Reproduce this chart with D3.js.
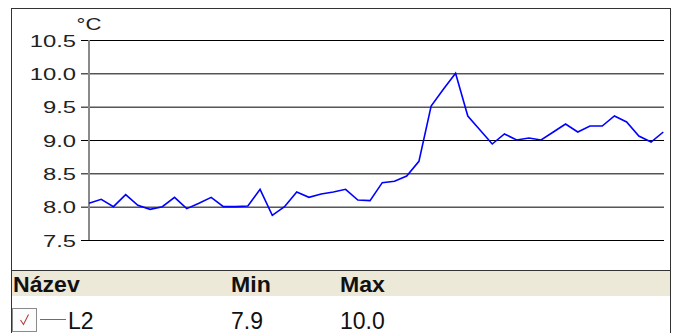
<!DOCTYPE html>
<html>
<head>
<meta charset="utf-8">
<script src="https://cdn.jsdelivr.net/npm/d3@7"></script>
<style>
  html, body { margin: 0; padding: 0; background: #fff; }
  svg { display: block; font-family: "Liberation Sans", Arial, sans-serif; }
</style>
</head>
<body>
<svg id="chart" width="677" height="333"></svg>
<script>
// Temperature readings of sensor L2 (°C), one per sample
const values = [
  8.05, 8.11, 8.00, 8.18, 8.02, 7.96, 8.00, 8.14, 7.97, 8.05,
  8.14, 8.00, 8.00, 8.01, 8.26, 7.87, 8.00, 8.22, 8.14, 8.19,
  8.22, 8.26, 8.10, 8.09, 8.36, 8.38, 8.46, 8.68, 9.51, 9.76,
  10.00, 9.36, 9.15, 8.94, 9.09, 9.00, 9.03, 9.00, 9.12, 9.24,
  9.12, 9.21, 9.21, 9.36, 9.27, 9.06, 8.97, 9.12
];
const yTicks = [7.5, 8.0, 8.5, 9.0, 9.5, 10.0, 10.5];
const unitLabel = "°C";
const columns = ["Název", "Min", "Max"];
const seriesName = "L2";

const svg = d3.select("#chart");

const plot = { left: 89, right: 664, top: 40, bottom: 240 };

const x = d3.scaleLinear().domain([0, values.length - 1]).range([plot.left, 663.3]);
const y = d3.scaleLinear().domain([7.5, 10.5]).range([plot.bottom, plot.top]);

// outer frame
svg.append("rect")
  .attr("x", 11.5).attr("y", 8.5)
  .attr("width", 659).attr("height", 340)
  .attr("fill", "#fff").attr("stroke", "#333").attr("stroke-width", 1);

// y axis with full-width grid lines
const axis = svg.append("g")
  .attr("transform", `translate(${plot.left},0)`)
  .call(d3.axisLeft(y).tickValues(yTicks).tickFormat(d3.format(".1f")).tickSizeOuter(0));
axis.select(".domain").remove();
axis.selectAll(".tick line")
  .attr("x1", -8).attr("x2", plot.right - plot.left)
  .attr("stroke", "#000").attr("stroke-width", 1);
axis.selectAll(".tick text")
  .attr("x", null).attr("dy", null)
  .attr("transform", "translate(-13,6) scale(1.4,1)")
  .attr("text-anchor", "end")
  .attr("font-size", 17)
  .attr("fill", "#222");

// vertical axis line
svg.append("line")
  .attr("x1", plot.left).attr("x2", plot.left)
  .attr("y1", y(10.5)).attr("y2", y(7.5))
  .attr("stroke", "#8a8a8a").attr("stroke-width", 2);

// unit label
svg.append("text")
  .attr("transform", "translate(89,30) scale(1.3,1)")
  .attr("text-anchor", "middle")
  .attr("font-size", 17)
  .attr("fill", "#222")
  .text(unitLabel);

// series line
svg.append("path")
  .datum(values)
  .attr("fill", "none")
  .attr("stroke", "#0000ff")
  .attr("stroke-width", 1.6)
  .attr("stroke-linejoin", "miter")
  .attr("d", d3.line().x((d, i) => x(i)).y(d => y(d)));

// legend table
const fmt = d3.format(".1f");
const minV = d3.min(values), maxV = d3.max(values);

svg.append("rect")
  .attr("x", 12).attr("y", 270)
  .attr("width", 658).attr("height", 26)
  .attr("fill", "#ece9d8");
svg.append("line")
  .attr("x1", 11).attr("x2", 671)
  .attr("y1", 270.5).attr("y2", 270.5)
  .attr("stroke", "#333");

const colX = [13, 231, 340];
columns.forEach((c, i) => {
  svg.append("text")
    .attr("transform", `translate(${colX[i]},292) scale(1.05,1)`)
    .attr("font-size", 22)
    .attr("font-weight", "bold")
    .attr("fill", "#111")
    .text(c);
});

// checkbox
svg.append("rect")
  .attr("x", 12.5).attr("y", 308.5)
  .attr("width", 24).attr("height", 23)
  .attr("fill", "#fcfcfc").attr("stroke", "#8a8a8a");
svg.append("path")
  .attr("d", "M20.5,320 L23.5,324.5 L28.5,314.5")
  .attr("fill", "none").attr("stroke", "#b04040").attr("stroke-width", 1.1);

// legend line swatch
svg.append("line")
  .attr("x1", 40).attr("x2", 66)
  .attr("y1", 319.5).attr("y2", 319.5)
  .attr("stroke", "#5a5aff").attr("stroke-width", 1);

const rowY = 329;
const rowText = [[68, seriesName], [colX[1], fmt(minV)], [colX[2], fmt(maxV)]];
rowText.forEach(([tx, t]) => {
  svg.append("text").attr("x", tx).attr("y", rowY)
    .attr("font-size", 23).attr("fill", "#111").text(t);
});
</script>
</body>
</html>
